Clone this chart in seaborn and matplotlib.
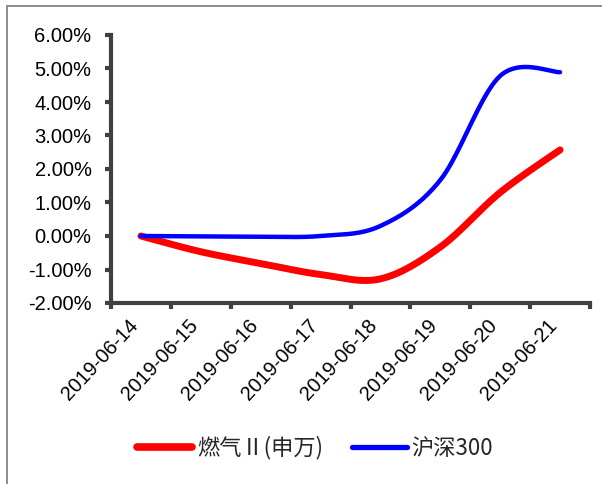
import numpy as np
import pandas as pd
import matplotlib
matplotlib.use("Agg")
import matplotlib.pyplot as plt
from matplotlib.lines import Line2D
from matplotlib.ticker import FuncFormatter, FixedLocator
from matplotlib.transforms import ScaledTranslation
import seaborn as sns

dates = ["2019-06-14", "2019-06-15", "2019-06-16", "2019-06-17",
         "2019-06-18", "2019-06-19", "2019-06-20", "2019-06-21"]
gas = [0.0, -0.47, -0.82, -1.15, -1.28, -0.33, 1.30, 2.57]      # 燃气Ⅱ(申万), %
hs300 = [0.0, -0.01, -0.02, 0.0, 0.30, 1.67, 4.78, 4.89]         # 沪深300, %
series_names = ["燃气Ⅱ(申万)", "沪深300"]
series_colors = ["#ff0000", "#0000ff"]
yticks = [-2, -1, 0, 1, 2, 3, 4, 5, 6]


def smooth(xs, ys, n=40):
    """Cubic Bezier smoothing through every point (Catmull-Rom tangents)."""
    p = np.column_stack([xs, ys]).astype(float)
    ext = np.vstack([p[0], p, p[-1]])
    out = []
    for i in range(len(p) - 1):
        p0, p1 = ext[i + 1], ext[i + 2]
        c1 = p0 + (ext[i + 2] - ext[i]) / 6.0
        c2 = p1 - (ext[i + 3] - ext[i + 1]) / 6.0
        t = np.linspace(0, 1, n, endpoint=(i == len(p) - 2))[:, None]
        seg = ((1 - t) ** 3) * p0 + 3 * ((1 - t) ** 2) * t * c1 \
            + 3 * (1 - t) * t ** 2 * c2 + t ** 3 * p1
        out.append(seg)
    return np.vstack(out)


sns.set_theme(style="white")
plt.rcParams["font.family"] = ["Liberation Sans", "DejaVu Sans"]

fig = plt.figure(figsize=(6.02, 4.84), dpi=100)
ax = fig.add_axes([111 / 602, 1 - 303 / 484, (590 - 111) / 602, (303 - 35) / 484])

x = np.arange(len(dates))
frames = []
for name, vals in zip(series_names, [gas, hs300]):
    c = smooth(x, vals)
    frames.append(pd.DataFrame({"x": c[:, 0], "y": c[:, 1], "series": name}))
df = pd.concat(frames, ignore_index=True)

for name, color, lw in zip(series_names, series_colors, [5.0, 3.2]):
    sns.lineplot(data=df[df["series"] == name], x="x", y="y", sort=False,
                 color=color, linewidth=lw, ax=ax, legend=False,
                 solid_capstyle="round", zorder=3 if name == series_names[1] else 2)

ax.set_xlim(-0.5, len(dates) - 0.5)
ax.set_ylim(yticks[0], yticks[-1])
ax.set_xlabel("")
ax.set_ylabel("")

# y axis
ax.yaxis.set_major_locator(FixedLocator(yticks))
ax.yaxis.set_major_formatter(FuncFormatter(lambda v, _: f"{v:.2f}%"))
ax.tick_params(axis="y", which="major", direction="out", length=4, width=3,
               color="#404040", labelsize=14.5, labelcolor="#000000", pad=10,
               left=True)

# x axis: ticks at category boundaries, labels at category centres
ax.xaxis.set_major_locator(FixedLocator(np.arange(-0.5, len(dates), 1.0)))
ax.xaxis.set_major_formatter(FuncFormatter(lambda v, _: ""))
ax.xaxis.set_minor_locator(FixedLocator(x))
ax.set_xticklabels(dates, minor=True)
ax.tick_params(axis="x", which="major", direction="out", length=4, width=3,
               color="#404040", bottom=True)
ax.tick_params(axis="x", which="minor", length=0, labelsize=14.5,
               labelcolor="#000000", pad=9)
shift = ScaledTranslation(-13 / 100, 0, fig.dpi_scale_trans)
for lab in ax.get_xticklabels(minor=True):
    lab.set_rotation(47)
    lab.set_ha("right")
    lab.set_va("top")
    lab.set_rotation_mode("anchor")
    lab.set_transform(lab.get_transform() + shift)

for side in ["top", "right"]:
    ax.spines[side].set_visible(False)
for side in ["left", "bottom"]:
    ax.spines[side].set_color("#404040")
    ax.spines[side].set_linewidth(3)
ax.grid(False)

handles = [Line2D([], [], color=series_colors[0], linewidth=5.5, solid_capstyle="round"),
           Line2D([], [], color=series_colors[1], linewidth=3.8, solid_capstyle="round")]
fig.legend(handles, series_names, loc="center", bbox_to_anchor=(315 / 602, 1 - 448 / 484),
           ncol=2, frameon=False, handlelength=2.5, handletextpad=0.2,
           columnspacing=1.3,
           prop={"family": ["Noto Sans CJK SC", "DejaVu Sans"], "size": 16})

# outer frame (top and left edges)
fig.add_artist(Line2D([7 / 602, 7 / 602], [0, 1 - 5.5 / 484], transform=fig.transFigure,
                      color="#8c8c8c", linewidth=1.4))
fig.add_artist(Line2D([7 / 602, 1.0], [1 - 5.5 / 484, 1 - 5.5 / 484], transform=fig.transFigure,
                      color="#8c8c8c", linewidth=1.4))

fig.savefig("out.png", dpi=100)
